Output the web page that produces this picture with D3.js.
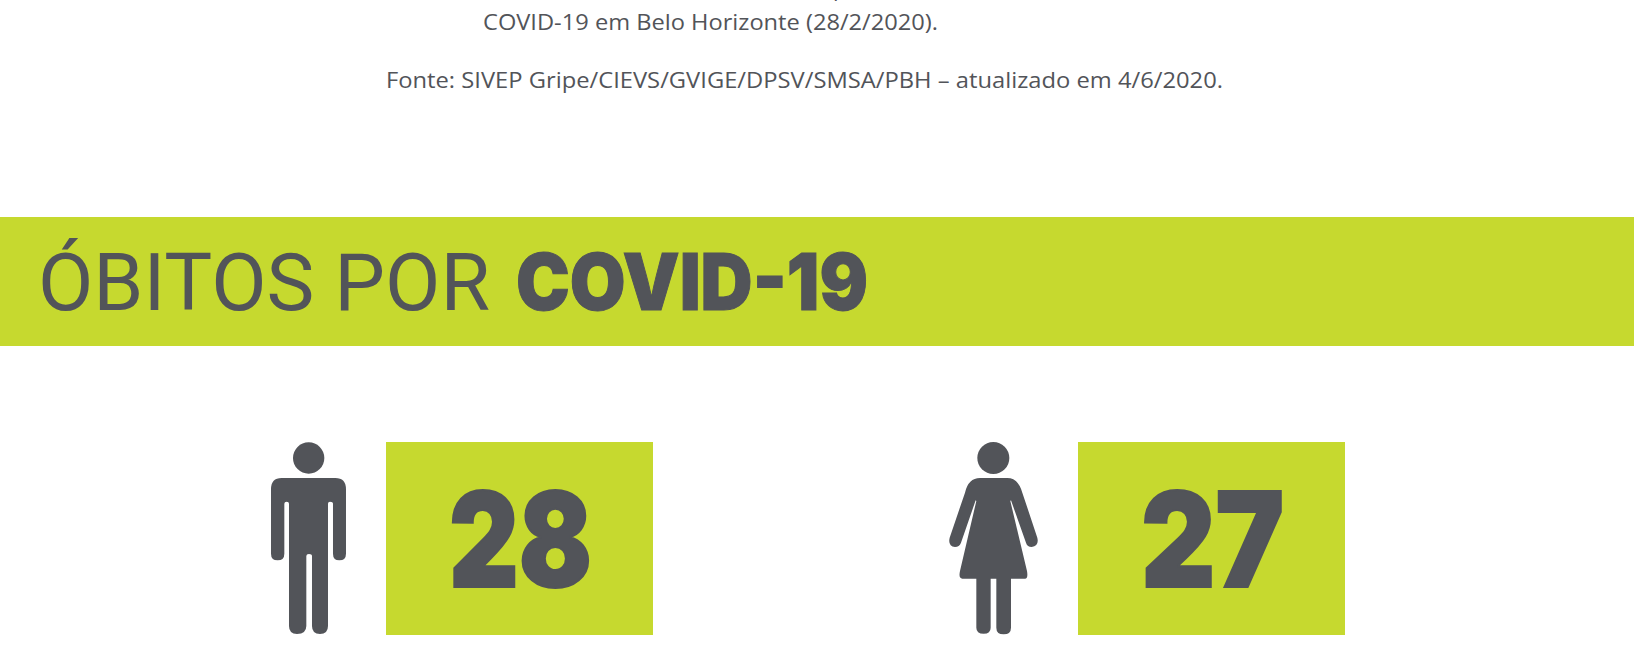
<!DOCTYPE html>
<html><head><meta charset="utf-8">
<script src="https://cdn.jsdelivr.net/npm/d3@7/dist/d3.min.js"></script>
<style>html,body{margin:0;padding:0;background:#fff;overflow:hidden}svg{display:block}</style>
</head><body>
<svg id="c" width="1634" height="654"></svg>
<script>
const categories = ["Homens", "Mulheres"];
const deaths = [28, 27];
const titleLight = "ÓBITOS POR";
const titleBold = "COVID-19";
const noteLines = ["COVID-19 em Belo Horizonte (28/2/2020).", "Fonte: SIVEP Gripe/CIEVS/GVIGE/DPSV/SMSA/PBH – atualizado em 4/6/2020."];

const LIME = "#c6d92f", GREY = "#525459";
const svg = d3.select("#c");

// cropped line above
svg.append("text").attr("x",833).attr("y",-4).attr("font-family","'Open Sans'").attr("font-size",22).attr("fill",GREY).text("p");

svg.selectAll("text.note").data(noteLines).join("text").attr("class","note")
  .attr("x",(d,i)=>[483,386][i]).attr("y",(d,i)=>[30,88][i])
  .attr("font-family","'Open Sans'").attr("font-size",21.5).attr("fill",GREY)
  .attr("textLength",(d,i)=>[455,837][i]).attr("lengthAdjust","spacingAndGlyphs")
  .text(d=>d);

svg.append("rect").attr("x",0).attr("y",217).attr("width",1634).attr("height",129).attr("fill",LIME);
svg.append("text").attr("x",38).attr("y",310).attr("font-family","Roboto").attr("font-weight",400).attr("font-size",80)
  .attr("fill",GREY).attr("textLength",452).attr("lengthAdjust","spacingAndGlyphs").text(titleLight);
svg.append("text").attr("x",516).attr("y",310).attr("font-family","Inter").attr("font-weight",900).attr("font-size",78)
  .attr("fill",GREY).attr("stroke",GREY).attr("stroke-width",1).attr("textLength",352).attr("lengthAdjust","spacingAndGlyphs").text(titleBold);

const x = d3.scalePoint().domain(categories).range([386,1078]);
const manBody = "M95 141H256Q288 141 288 175V368Q288 388 268 388Q249 388 249 368V218Q249 212 240 212Q234 212 234 218V585Q234 609 210 609Q186 609 186 585V375Q186 369 177 369Q169 369 169 375V585Q169 609 141 609Q117 609 117 585V218Q117 212 110 212Q103 212 103 218V368Q103 388 83 388Q63 388 63 368V175Q63 141 95 141Z";
const womanBody = "M150 141H232Q265 141 277 185L322 320Q328 345 305 348Q292 348 288 335L243 208L241 210L291 420Q295 443 285 443H243V590Q243 610 221 610Q199 610 199 590V443H182V590Q182 608 161 608Q139 608 139 590V443H97Q85 443 90 420L139 210L137 208L93 335Q88 348 75 348Q53 345 59 320L105 185Q115 141 150 141Z";

const g = svg.selectAll("g.panel").data(categories.map((c,i)=>({c,v:deaths[i],i}))).join("g").attr("class","panel")
  .attr("transform",d=>`translate(${x(d.c)},442)`);
g.append("rect").attr("width",267).attr("height",193).attr("fill",LIME);
g.append("text").attr("x",63).attr("y",144.5).attr("font-family","Inter").attr("font-weight",900)
  .attr("font-size",132).attr("fill",GREY).attr("stroke",GREY).attr("stroke-width",2)
  .attr("textLength",143).attr("lengthAdjust","spacingAndGlyphs").text(d=>d.v);
const ic = g.append("g").attr("transform",d=>d.i===0?"translate(-136,-11) scale(0.3333)":"translate(-148,-11) scale(0.3333)").attr("fill",GREY);
ic.append("path").attr("d",d=>d.i===0?manBody:womanBody);
ic.append("circle").attr("cx",d=>d.i===0?176:190).attr("cy",81).attr("r",d=>d.i===0?47:48);
</script>
</body></html>
